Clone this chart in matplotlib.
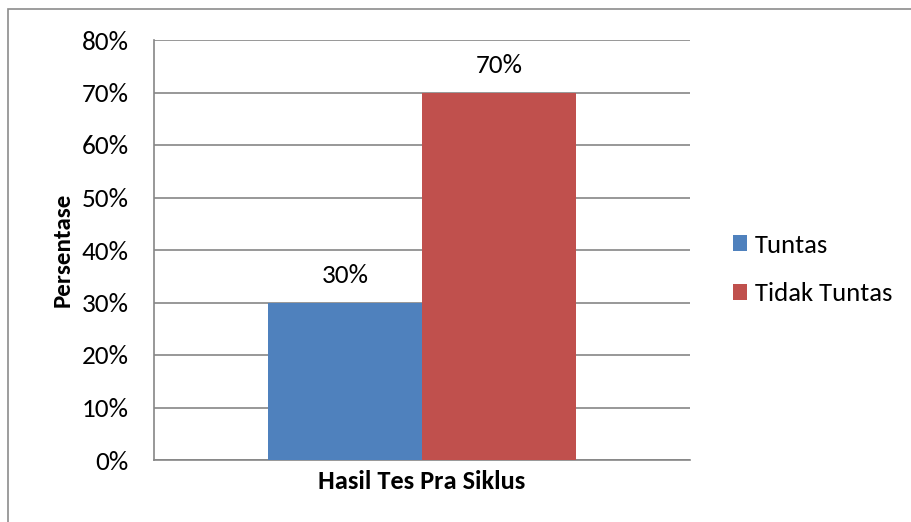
import matplotlib
matplotlib.use("Agg")
import matplotlib.pyplot as plt
from matplotlib.patches import Rectangle
from matplotlib import font_manager

categories = ["Hasil Tes Pra Siklus"]
series_names = ["Tuntas", "Tidak Tuntas"]
series_values = [30, 70]
colors = ["#4F81BD", "#C0504D"]
yticks = [0, 10, 20, 30, 40, 50, 60, 70, 80]
ytick_labels = [f"{v}%" for v in yticks]

avail = {f.name for f in font_manager.fontManager.ttflist}
fam = "Carlito" if "Carlito" in avail else "Lato"
plt.rcParams['font.family'] = [fam, 'DejaVu Sans']

FS = 19.5
W, H = 912, 522
fig = plt.figure(figsize=(W/100, H/100), dpi=100)
fig.add_artist(Rectangle((8/W, -0.05), 1.2, 1 - 9/H + 0.05, transform=fig.transFigure,
                         fill=False, edgecolor="#8C8C8C", linewidth=1.2))

ax = fig.add_axes([154/W, 1 - 460/H, (690-154)/W, (460-40)/H])
bw = 154/536
offsets = [-bw/2, bw/2]
for name, val, c, off in zip(series_names, series_values, colors, offsets):
    ax.bar(0 + off, val, width=bw, color=c, label=name, zorder=3)
    ax.text(0 + off, val + 3.0, f"{val}%", ha="center", va="bottom", fontsize=FS, color="#000000")

ax.set_xlim(-0.5, 0.5)
ax.set_ylim(0, 80)
ax.set_yticks(yticks)
ax.set_yticklabels(ytick_labels, fontsize=FS)
ax.set_xticks([0])
ax.set_xticklabels(categories, fontsize=FS - 0.5, fontweight="bold")
ax.tick_params(axis="x", length=0, pad=7)
ax.tick_params(axis="y", length=0, pad=18)
ax.grid(axis="y", color="#868686", linewidth=1.2, zorder=0)
for s in ["top", "right"]:
    ax.spines[s].set_visible(False)
for s in ["left", "bottom"]:
    ax.spines[s].set_color("#868686")
    ax.spines[s].set_linewidth(1.2)
ax.set_ylabel("Persentase", fontsize=FS - 1.5, fontweight="bold", labelpad=6)

leg = ax.legend(loc="center left", bbox_to_anchor=((733-154)/536, (460-269.5)/420),
                frameon=False, fontsize=FS - 0.3, handlelength=0.53, handleheight=0.53,
                handletextpad=0.3, labelspacing=0.97, borderpad=0, borderaxespad=0)

fig.savefig("out.png", dpi=100)
